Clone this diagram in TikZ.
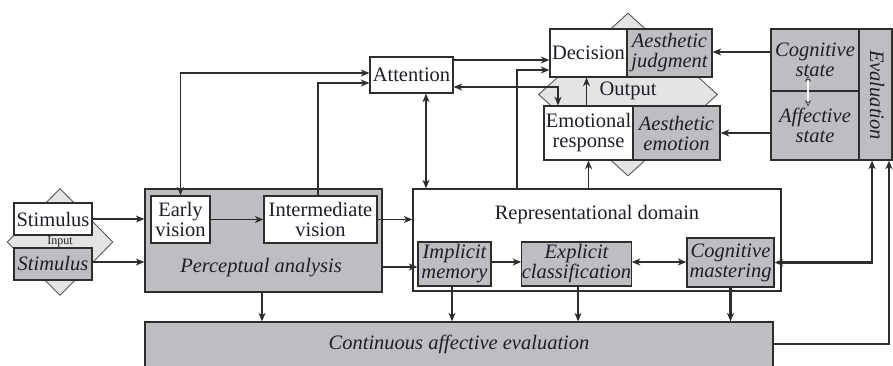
\documentclass[tikz,border=0pt]{standalone}
\usepackage{fontspec}
\setmainfont{Liberation Serif}
\usetikzlibrary{arrows.meta,shapes.geometric}
\definecolor{boxgray}{RGB}{189,190,193}
\definecolor{diagray}{RGB}{228,228,228}
\definecolor{linec}{RGB}{45,45,45}
\definecolor{txt}{RGB}{30,30,40}
\begin{document}
\begin{tikzpicture}[x=1pt,y=-1pt,
  font=\fontsize{20.5}{20}\selectfont, text=txt,
  box/.style={draw=linec, line width=1.3pt, inner sep=0pt, align=center},
  wbox/.style={box, fill=white},
  gbox/.style={box, fill=boxgray, font=\fontsize{20.5}{20}\selectfont\itshape},
  dia/.style={diamond, draw=linec!80, line width=0.9pt, fill=diagray, inner sep=0pt},
  tip/.tip={Stealth[length=8.5pt,width=7pt,inset=2.5pt]},
  conn/.style={draw=linec, line width=1.2pt, -tip},
  conn2/.style={conn, tip-tip},
  heavy/.style={line width=2.2pt}]
\useasboundingbox (0,0) rectangle (893,366);

% diamond backgrounds
\node[dia, minimum width=106, minimum height=107] (inputd) at (60,242) {};
\node[dia, minimum width=179, minimum height=163] (outd) at (628,94.5) {};
\node[font=\fontsize{12}{12}\selectfont] (inputlbl) at (60,242) {Input};
\node (outlbl) at (628,91) {Output};

% input
\node[wbox, minimum width=78, minimum height=32] (stimw) at (53,219) {Stimulus};
\node[gbox, minimum width=78, minimum height=32] (stimg) at (53,264) {Stimulus};

% perceptual analysis
\node[gbox, minimum width=237, minimum height=103] (percep) at (263.5,240.5) {};
\node[font=\fontsize{20.5}{20}\selectfont\itshape] (perceplbl) at (261,268) {Perceptual analysis};
\node[wbox, minimum width=59, minimum height=47] (early) at (180.5,219.5) {Early\\vision};
\node[wbox, minimum width=113, minimum height=47] (inter) at (320.5,219.5) {Intermediate\\vision};

% representational domain
\node[wbox, minimum width=368, minimum height=102] (repd) at (597,240) {};
\node (repdlbl) at (597,215) {Representational domain};
\node[gbox, minimum width=73, minimum height=44] (impl) at (454.5,264) {Implicit\\memory};
\node[gbox, minimum width=109, minimum height=44] (expl) at (576.5,264) {Explicit\\classification};
\node[gbox, minimum width=87, minimum height=49] (cogm) at (730.5,262.5) {Cognitive\\mastering};

% continuous evaluation
\node[gbox, minimum width=628, minimum height=58] (cont) at (459,351) {};
\node[font=\fontsize{20.5}{20}\selectfont\itshape] (contlbl) at (459,344) {Continuous affective evaluation};

% attention and output
\node[wbox, minimum width=83, minimum height=36] (attn) at (411.5,75) {Attention};
\node[wbox, minimum width=77, minimum height=48] (dec) at (588.5,53) {Decision};
\node[gbox, minimum width=85, minimum height=48] (aj) at (669.5,53) {Aesthetic\\judgment};
\node[wbox, minimum width=89, minimum height=54] (emo) at (588.5,133) {Emotional\\response};
\node[gbox, minimum width=87, minimum height=54] (ae) at (676.5,133) {Aesthetic\\emotion};

% evaluation
\node[gbox, minimum width=88, minimum height=62] (cogs) at (815,60) {Cognitive\\state};
\node[gbox, minimum width=88, minimum height=69] (affs) at (815,125.5) {Affective\\state};
\node[gbox, minimum width=33, minimum height=131] (evalb) at (875.5,94.5) {};
\node[font=\fontsize{20.5}{20}\selectfont\itshape, rotate=-90] (evallbl) at (877,95) {Evaluation};

% connectors: input and perception
\draw[conn] (stimw.east) -- (stimw.east -| percep.west);
\draw[conn, heavy] ([yshift=2]stimg.east) -- ([yshift=2]stimg.east -| percep.west);
\draw[conn] (early.east) -- (inter.west);
\draw[conn] (inter.east) -- (inter.east -| repd.west);
\draw[conn, heavy] ([yshift=-3]impl.west -| percep.east) -- ([yshift=-3]impl.west);
\draw[conn, heavy] ([xshift=-1.5]percep.south) -- ([xshift=-1.5]percep.south |- cont.north);

% representational domain
\draw[conn] ([yshift=2]impl.east) -- ([yshift=2]impl.east -| expl.west);
\draw[conn2, heavy] ([yshift=2]expl.east) -- ([yshift=2]expl.east -| cogm.west);
\draw[conn, heavy] ([xshift=-2.5]impl.south) -- ([xshift=-2.5]impl.south |- cont.north);
\draw[conn, heavy] ([xshift=1.5]expl.south) -- ([xshift=1.5]expl.south |- cont.north);
\draw[conn, heavy] (cogm.south) -- (cogm.south |- cont.north);

% attention
\draw[conn2] (early.north) |- ([yshift=2]attn.west);
\draw[conn] ([xshift=-2.5]inter.north) |- ([yshift=-8]attn.west);
\draw[conn] ([yshift=15]attn.east) -- ([yshift=15]attn.east -| dec.west);
\draw[conn2] ([yshift=-12]attn.east) -| ([xshift=-30.5]emo.north);
\draw[conn2] ([xshift=14.5]attn.south) -- ([xshift=14.5]attn.south |- repd.north);

% output
\draw[conn] ([xshift=-80]repd.north) |- ([yshift=-17]dec.west);
\draw[conn] (emo.south |- repd.north) -- (emo.south);
\draw[conn] ([xshift=-2]emo.north) -- ([xshift=-2]dec.south);

% evaluation
\draw[conn, heavy] ([yshift=8]cogs.west) -- ([yshift=8]cogs.west -| aj.east);
\draw[conn, heavy] ([yshift=-7.5]affs.west) -- ([yshift=-7.5]affs.west -| ae.east);
\draw[conn2, heavy] (cogm.east) -| ([xshift=-3.5]evalb.south);
\draw[conn, heavy] ([yshift=7]cont.east) -| ([xshift=13.5]evalb.south);
\draw[line width=0.6pt, draw=linec, double=white, double distance=1.3pt,
  {Stealth[length=6pt,width=6pt,fill=white]}-{Stealth[length=6pt,width=6pt,fill=white]}]
  ([xshift=-7,yshift=16]cogs.south) -- ([xshift=-7,yshift=-16]affs.north);
\end{tikzpicture}
\end{document}
